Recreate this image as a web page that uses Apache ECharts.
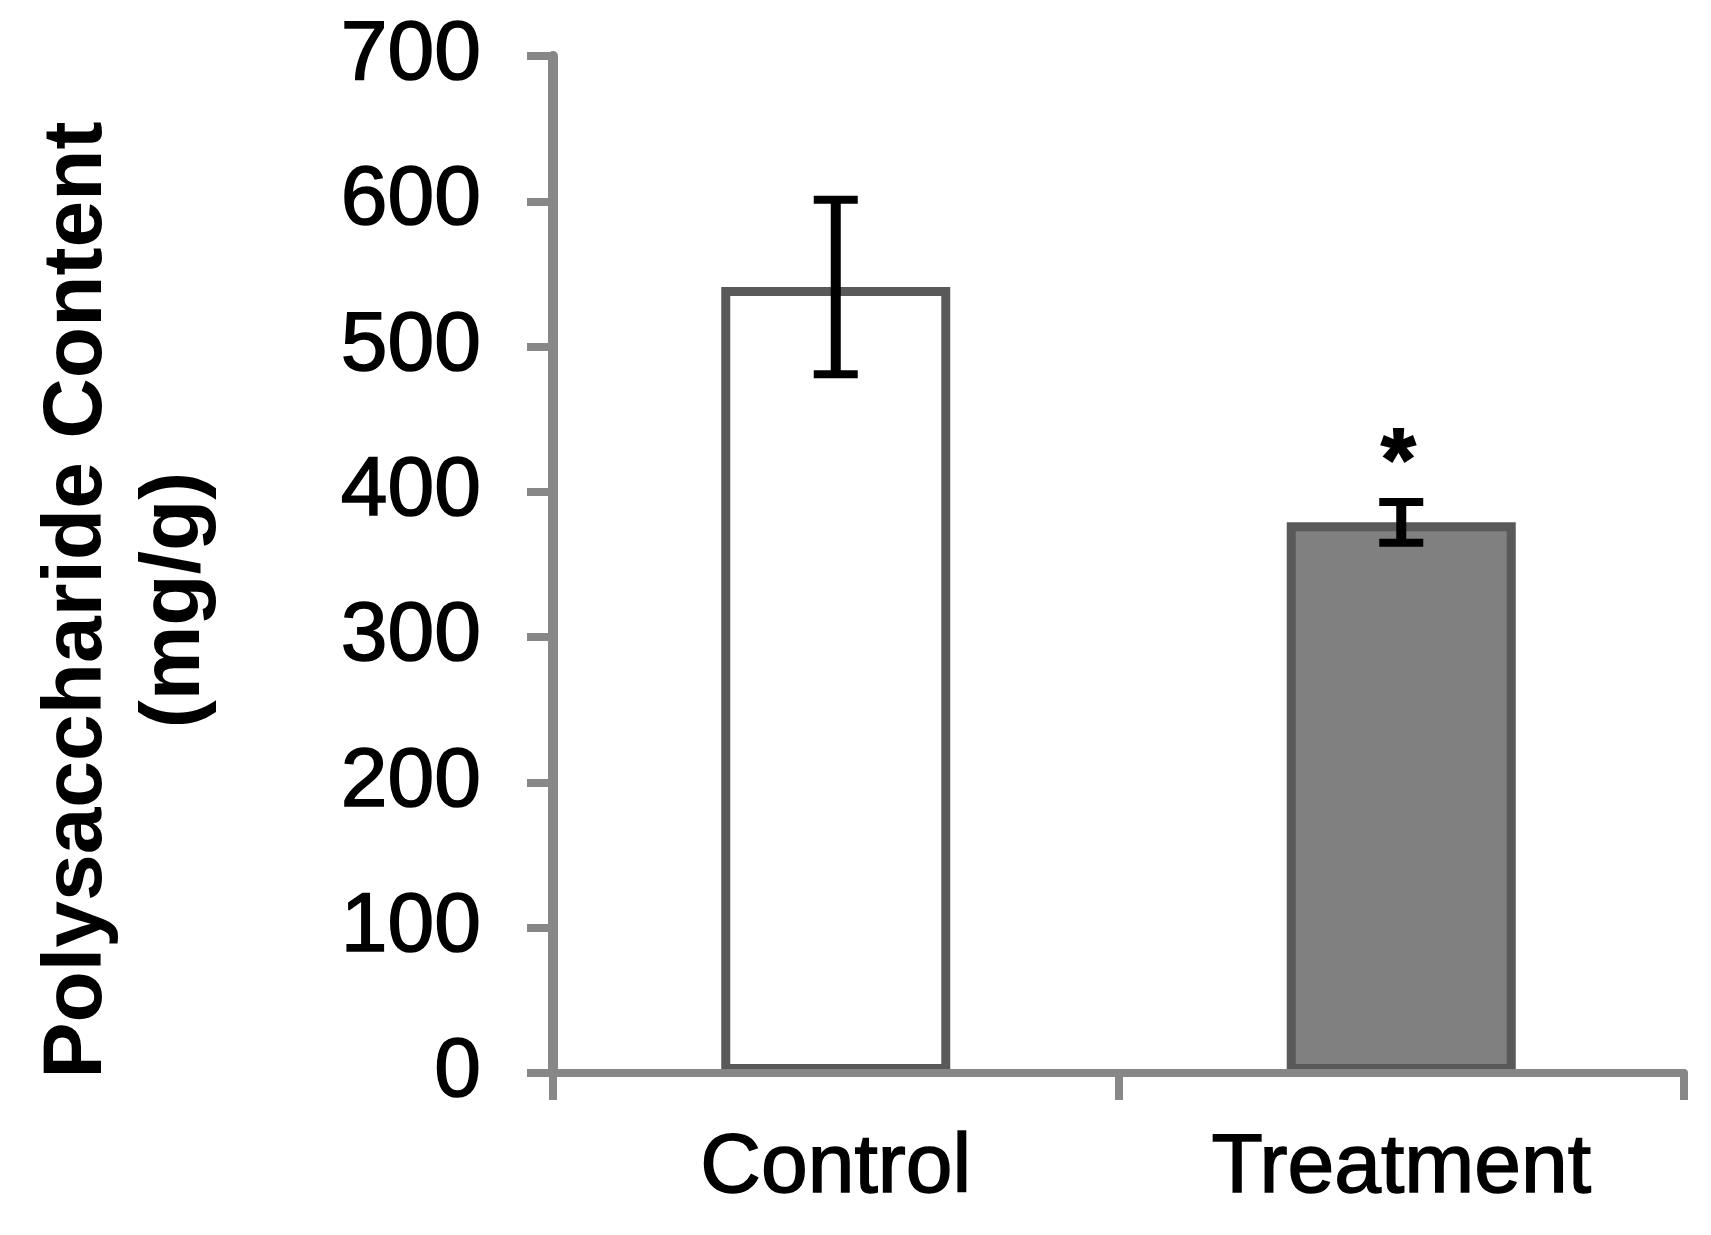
<!DOCTYPE html>
<html>
<head>
<meta charset="utf-8">
<script src="https://cdn.jsdelivr.net/npm/echarts@6/dist/echarts.min.js"></script>
<style>
  html, body { margin: 0; padding: 0; background: #fff; }
  #chart { width: 1711px; height: 1235px; }
</style>
</head>
<body>
<div id="chart"></div>
<script>
const categories = ["Control", "Treatment"];
const means = [541, 379];
const errors = [60, 14];
const sigMarks = ["", "*"];
const yTicks = [0, 100, 200, 300, 400, 500, 600, 700];

const axisGray = "#878787";
const font = "Liberation Sans, Arial, sans-serif";

const chart = echarts.init(document.getElementById("chart"));

// error bars + significance mark drawn through the axes
function renderErrorBar(params, api) {
  const i = api.value(0);
  const lo = api.coord([i, api.value(1)]);
  const hi = api.coord([i, api.value(2)]);
  const capHalf = 22;
  const children = [
    { type: "line", shape: { x1: hi[0], y1: hi[1], x2: lo[0], y2: lo[1] },
      style: { stroke: "#000", lineWidth: 10 } },
    { type: "line", shape: { x1: hi[0] - capHalf, y1: hi[1], x2: hi[0] + capHalf, y2: hi[1] },
      style: { stroke: "#000", lineWidth: 8 } },
    { type: "line", shape: { x1: lo[0] - capHalf, y1: lo[1], x2: lo[0] + capHalf, y2: lo[1] },
      style: { stroke: "#000", lineWidth: 8 } },
  ];
  const mark = sigMarks[i];
  if (mark) {
    children.push({
      type: "text",
      style: {
        text: mark, x: hi[0] - 3, y: hi[1] - 37,
        align: "center", verticalAlign: "middle",
        textAlign: "center", textVerticalAlign: "middle",
        font: "bold 88px " + font, fill: "#000",
        stroke: "#000", lineWidth: 2,
      },
    });
  }
  return { type: "group", children };
}

const labelStyle = {
  color: "#000",
  fontSize: 84,
  fontFamily: font,
  textBorderColor: "#000",
  textBorderWidth: 1.5,
};

chart.setOption({
  animation: false,
  backgroundColor: "#fff",
  grid: { left: 553, right: 27, top: 56, bottom: 162 },
  xAxis: {
    type: "category",
    data: categories,
    z: 10,
    axisLine: { show: true, lineStyle: { color: axisGray, width: 8 } },
    axisTick: { show: true, length: 27, interval: 0, lineStyle: { color: axisGray, width: 8 } },
    axisLabel: Object.assign({ margin: 54 }, labelStyle),
  },
  yAxis: {
    type: "value",
    min: 0,
    max: 700,
    interval: 100,
    z: 10,
    splitLine: { show: false },
    axisLine: { show: true, lineStyle: { color: axisGray, width: 10 } },
    axisTick: { show: true, length: 26, lineStyle: { color: axisGray, width: 8 } },
    axisLabel: Object.assign({
      margin: 72,
      formatter: (v) => (yTicks.includes(v) ? String(v) : ""),
    }, labelStyle),
  },
  graphic: [
    {
      type: "text",
      x: 127,
      y: 600,
      rotation: Math.PI / 2,
      style: {
        text: "Polysaccharide Content\n(mg/g)",
        font: "bold 84px " + font,
        lineHeight: 98,
        align: "center",
        verticalAlign: "middle",
        textAlign: "center",
        textVerticalAlign: "middle",
        fill: "#000",
      },
    },
  ],
  series: [
    {
      type: "bar",
      barWidth: 229,
      data: means.map((v, i) => ({
        value: v,
        itemStyle: {
          color: i === 0 ? "#ffffff" : "#808080",
          borderColor: "#595959",
          borderWidth: 9,
        },
      })),
    },
    {
      type: "custom",
      renderItem: renderErrorBar,
      z: 5,
      data: means.map((v, i) => [i, v - errors[i], v + errors[i]]),
    },
  ],
});
</script>
</body>
</html>
